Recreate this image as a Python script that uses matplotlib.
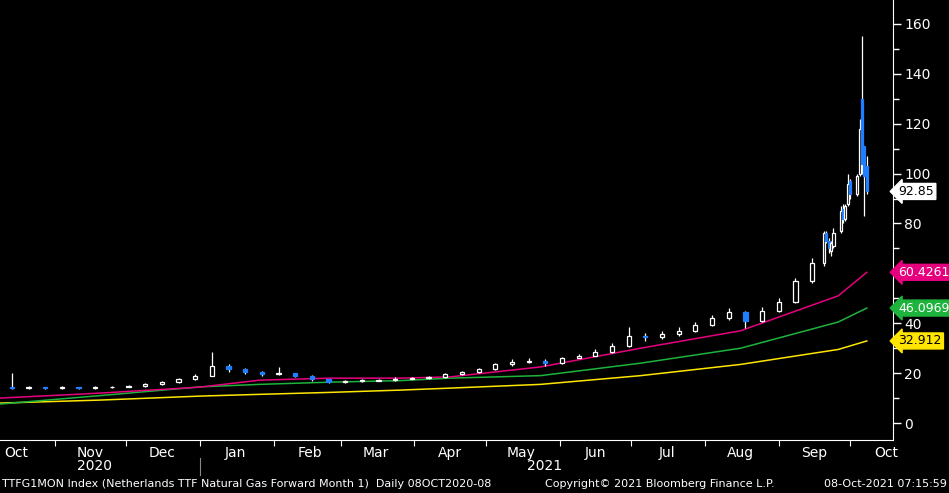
import matplotlib
matplotlib.use("Agg")
import matplotlib.pyplot as plt
import matplotlib.dates as mdates
import numpy as np
import pandas as pd

plt.rcParams['font.family'] = ['DejaVu Sans']

# Weekly candles (week start) Oct 2020 - mid Sep 2021
week_start = "2020-10-12"
w_open  = [14.2,14.0,14.3,14.0,14.2,14.0,14.3,14.6,14.8,15.5,16.5,17.5,19.0,23.0,21.5,20.5,19.5,20.0,19.0,17.5,16.5,16.8,17.0,17.3,17.8,18.0,18.5,19.5,20.5,21.5,23.5,24.5,25.0,24.0,26.0,27.0,28.5,31.0,35.0,34.5,35.5,37.0,39.5,42.0,44.5,41.0,45.0,48.5,57.0]
w_close = [14.0,14.3,14.0,14.2,14.0,14.3,14.6,14.8,15.5,16.5,17.5,19.0,23.0,21.5,20.5,19.5,20.0,19.0,17.5,16.5,16.8,17.0,17.3,17.8,18.0,18.5,19.5,20.5,21.5,23.5,24.5,25.0,24.0,26.0,27.0,28.5,31.0,35.0,34.5,35.5,37.0,39.5,42.0,44.5,41.0,45.0,48.5,57.0,64.0]
w_high  = [20.0,14.8,14.6,14.7,14.5,14.8,15.0,15.2,16.0,17.0,18.2,19.8,28.5,23.5,22.0,21.0,22.5,20.0,19.2,17.8,17.3,17.5,17.8,18.3,18.5,19.0,20.0,21.0,22.0,24.0,25.5,26.0,25.5,26.5,27.8,29.5,32.0,38.5,36.0,37.0,38.5,40.5,43.5,46.0,45.0,46.5,50.0,58.0,66.0]
w_low   = [13.5,13.7,13.6,13.7,13.6,13.8,14.1,14.3,14.6,15.2,16.2,17.2,18.8,20.5,19.8,19.0,19.2,18.3,17.0,16.0,16.2,16.5,16.8,17.0,17.5,17.8,18.2,19.2,20.2,21.2,23.0,24.0,23.0,23.8,26.0,27.0,28.0,30.5,33.0,33.8,35.0,36.5,39.0,41.5,38.0,40.5,44.5,48.0,56.0]

# Daily candles Sep 20 - Oct 8 2021
d_dates = ["2021-09-20","2021-09-21","2021-09-22","2021-09-23","2021-09-24","2021-09-27","2021-09-28","2021-09-29","2021-09-30","2021-10-01","2021-10-04","2021-10-05","2021-10-06","2021-10-07","2021-10-08"]
d_open  = [64,76,73,69,71,77,86,82,88,97,92,100,130,111,103]
d_close = [76,73,70,72,76,85,82,87,96,92,99,118,104,99,92.85]
d_high  = [77,77,74,73,78,87,88,88,100,98,100,122,155,111,107]
d_low   = [63,72,68,67,70,76,80,81,87,90,91,99,100,83,92]

# Moving averages (read at sample dates)
ma_dates = ["2020-10-09","2020-11-20","2021-01-01","2021-01-26","2021-02-25","2021-03-26","2021-04-16","2021-05-24","2021-07-05","2021-08-16","2021-09-26","2021-10-08"]
ma_short = [10.0,12.0,14.4,17.2,18.0,18.0,18.5,22.5,30.0,37.0,51.0,60.4261]
ma_mid   = [7.6,11.0,14.5,15.5,16.4,17.0,18.0,19.0,24.0,30.0,40.5,46.0969]
ma_long  = [8.0,9.2,10.8,11.5,12.3,13.2,14.0,15.5,19.0,23.5,29.5,32.912]

labels = [("92.85", "white", "black", 92.85), ("60.4261", "#e6007e", "white", 60.4261),
          ("46.0969", "#1db33c", "white", 46.0969), ("32.912", "#ffe600", "black", 32.912)]

fig = plt.figure(figsize=(9.49, 4.93), dpi=100, facecolor="black")
ax = fig.add_axes([0, 53/493, 893/949, 440/493], facecolor="black")

BLUE = "#1f7fff"
def candles(dates, o, h, l, c, width):
    for d, oo, hh, ll, cc in zip(dates, o, h, l, c):
        x = mdates.date2num(d)
        up = cc >= oo
        ax.vlines(x, ll, hh, color="white", lw=0.9, zorder=3)
        lo, hi = min(oo, cc), max(oo, cc)
        ax.bar(x, max(hi - lo, 0.3), width, bottom=lo,
               color="black" if up else BLUE,
               edgecolor="white" if up else BLUE, lw=0.9, zorder=4)

wd = pd.date_range(week_start, periods=len(w_close), freq="7D") + pd.Timedelta(days=2)
candles(wd, w_open, w_high, w_low, w_close, 1.8)
candles(pd.to_datetime(d_dates), d_open, d_high, d_low, d_close, 0.9)

md = pd.to_datetime(ma_dates)
ax.plot(md, ma_long, color="#ffe600", lw=1.1, zorder=2)
ax.plot(md, ma_mid, color="#1db33c", lw=1.1, zorder=2)
ax.plot(md, ma_short, color="#e6007e", lw=1.1, zorder=2)

ax.set_xlim(mdates.date2num(pd.Timestamp("2020-10-09")), mdates.date2num(pd.Timestamp("2021-10-19")))
ax.set_ylim(-6.8, 169.6)

ax.yaxis.tick_right()
ax.set_yticks(np.arange(0, 161, 20))
ax.set_yticks(np.arange(0, 161, 10), minor=True)
ax.tick_params(axis="y", which="major", colors="white", labelsize=10, direction="out", length=6, width=1, pad=2)
ax.tick_params(axis="y", which="minor", colors="white", direction="out", length=4, width=1)

ax.xaxis.set_major_locator(mdates.MonthLocator())
ax.xaxis.set_major_formatter(plt.NullFormatter())
ax.xaxis.set_minor_locator(mdates.MonthLocator(bymonthday=16))
ax.xaxis.set_minor_formatter(mdates.DateFormatter("%b"))
ax.tick_params(axis="x", which="major", colors="white", length=4, direction="out")
ax.tick_params(axis="x", which="minor", length=0, colors="white", labelsize=10, pad=4)

for s in ["top", "left"]:
    ax.spines[s].set_visible(False)
for s in ["bottom", "right"]:
    ax.spines[s].set_color("white")

for txt, fc, tc, val in labels:
    ax.annotate(txt, xy=(1.0, val), xycoords=("axes fraction", "data"),
                xytext=(4, 0), textcoords="offset points", va="center", ha="left",
                color=tc, fontsize=9,
                bbox=dict(boxstyle="larrow,pad=0.12", fc=fc, ec=fc), zorder=10,
                annotation_clip=False)

fig.text(95/949, 1 - 466/493, "2020", color="white", fontsize=10, ha="center", va="center")
fig.text(545/949, 1 - 466/493, "2021", color="white", fontsize=10, ha="center", va="center")
fig.add_artist(plt.Line2D([200/949, 200/949], [1 - 458/493, 1 - 475/493], color="#888888", lw=0.8))
fig.text(2/949, 1 - 484/493, "TTFG1MON Index (Netherlands TTF Natural Gas Forward Month 1)  Daily 08OCT2020-08",
         color="white", fontsize=8, va="center")
fig.text(545/949, 1 - 484/493, "Copyright© 2021 Bloomberg Finance L.P.", color="white", fontsize=8, va="center")
fig.text(947/949, 1 - 484/493, "08-Oct-2021 07:15:59", color="white", fontsize=8, va="center", ha="right")

fig.savefig("out.png", dpi=100, facecolor="black")
